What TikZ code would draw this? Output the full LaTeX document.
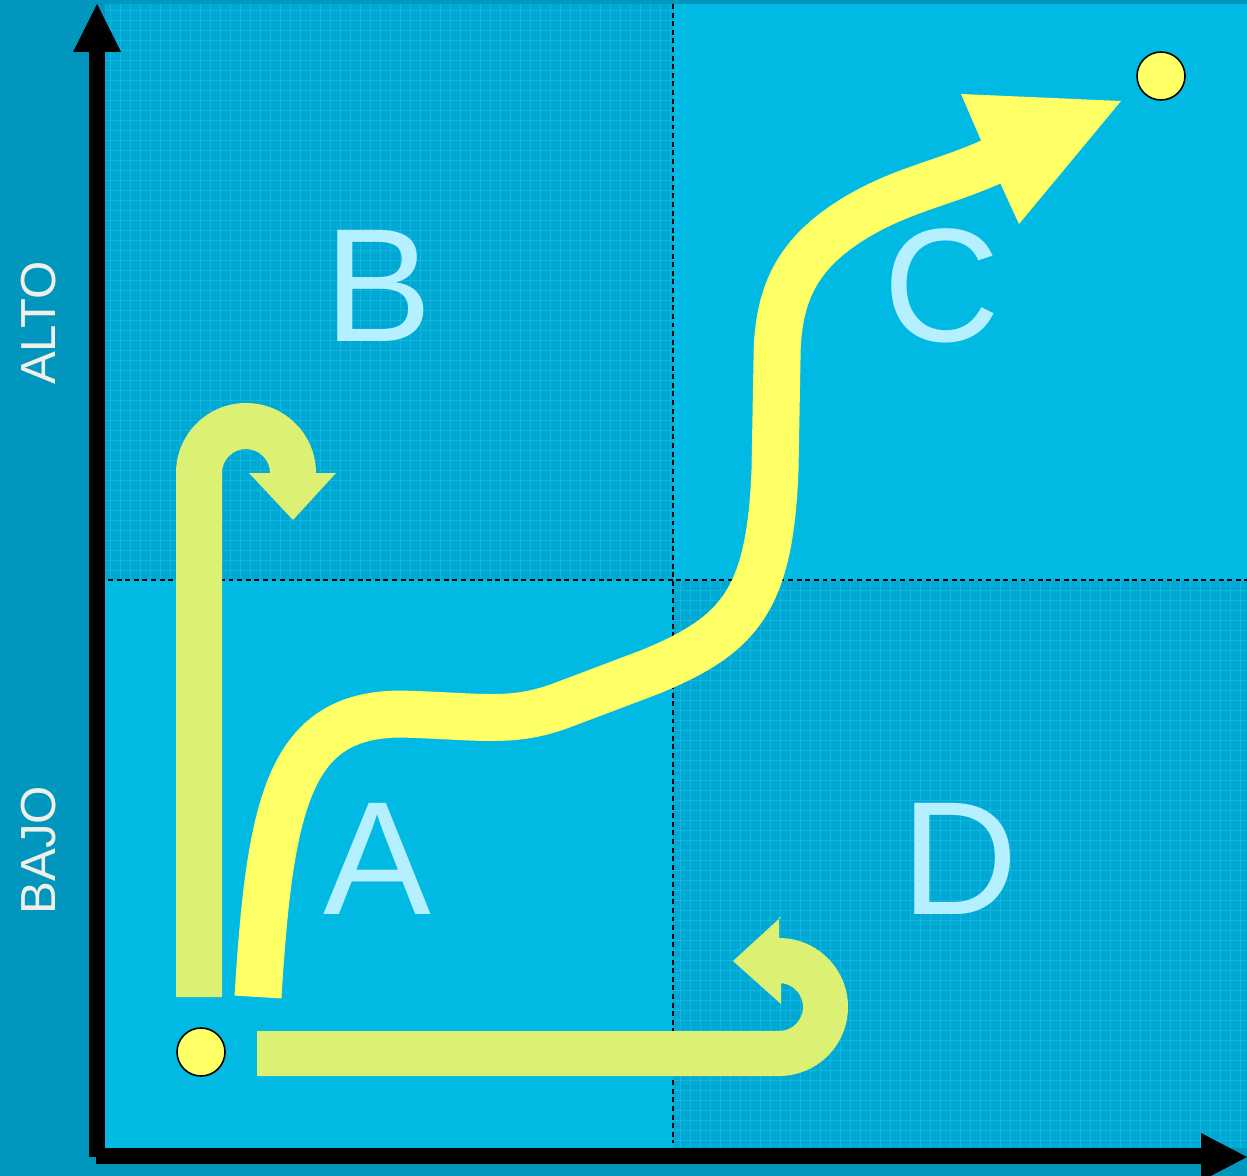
\documentclass[tikz,border=0pt]{standalone}
\usepackage{fontspec}
\setmainfont{Liberation Sans}
\definecolor{outerbg}{RGB}{0,150,190}
\definecolor{quaddark}{RGB}{0,168,212}
\definecolor{quadlight}{RGB}{0,186,228}
\definecolor{gridcol}{RGB}{20,182,224}
\definecolor{lettercol}{RGB}{180,240,255}
\definecolor{yel}{RGB}{255,255,102}
\definecolor{hookcol}{RGB}{220,240,115}
\definecolor{axislabelcol}{RGB}{240,240,232}
\begin{document}
\begin{tikzpicture}[x=0.02cm,y=0.02cm,yscale=-1,
  divider/.style={black,line width=0.9pt,dash pattern=on 2.8pt off 2.1pt},
  bigletter/.style={text=lettercol,font=\fontsize{92}{92}\selectfont,inner sep=0pt},
  axislabel/.style={text=axislabelcol,font=\fontsize{28}{28}\selectfont,inner sep=0pt,rotate=90},
  dot/.style={circle,fill=yel,draw=black,line width=0.9pt,minimum size=0.96cm,inner sep=0pt},
  bigpath/.style={yel,line width=0.94cm,line cap=butt,line join=round},
  hookfill/.style={fill=hookcol},
  gridlines/.style={gridcol,line width=0.3pt}]
\useasboundingbox (0,0) rectangle (1247,1176);
% backgrounds
\fill[outerbg] (0,0) rectangle (1247,1176);
\fill[quaddark] (105,4) rectangle (673,580);
\fill[quadlight] (673,4) rectangle (1247,580);
\fill[quadlight] (105,580) rectangle (673,1148);
\fill[quaddark] (673,580) rectangle (1247,1148);
\draw[gridlines] (105,4) grid[step=10] (673,580);
\draw[gridlines] (673,580) grid[step=10] (1247,1148);
% dividers
\draw[divider] (108,580) -- (1247,580);
\draw[divider] (673,4) -- (673,1143);
% quadrant letters
\node[bigletter] (B) at (378,286) {B};
\node[bigletter] (C) at (942,286) {C};
\node[bigletter] (A) at (377,859) {A};
\node[bigletter] (D) at (960,859) {D};
% axis labels
\node[axislabel] (alto) at (39,323) {ALTO};
\node[axislabel] (bajo) at (39,850) {BAJO};
% left hook arrow (up then down)
\fill[hookfill] (176,997) -- (176,473) arc[start angle=180,end angle=360,radius=70]
  -- (336,473) -- (293,520) -- (249,473) -- (270,473)
  arc[start angle=0,end angle=-180,radius=24] -- (222,997) -- cycle;
% bottom hook arrow (right then back)
\fill[hookfill] (257,1031) -- (779,1031) arc[start angle=90,end angle=-90,radius=24]
  -- (781,983) -- (781,1004) -- (733,961) -- (781,917) -- (779,917) -- (779,938)
  arc[start angle=-90,end angle=90,radius=69] -- (257,1076) -- cycle;
% main S-curve arrow
\draw[bigpath] (258,997) .. controls (270,800) and (290,715) .. (400,714)
  .. controls (480,716) and (510,724) .. (560,706) -- (650,672)
  .. controls (740,635) and (770,600) .. (775,470) -- (777,360)
  .. controls (777,290) and (800,250) .. (860,215)
  .. controls (905,189) and (947,182) .. (993,161);
\fill[yel] (980,138) -- (961,94) -- (1121,101) -- (1019,224) -- (1002,187) -- cycle;
% circles
\node[dot] (start) at (201,1052) {};
\node[dot] (goal) at (1161,76) {};
% axes
\fill[black] (89,52) rectangle (105,1157);
\fill[black] (73,52) -- (121,52) -- (97,4) -- cycle;
\fill[black] (96,1148) rectangle (1201,1164);
\fill[black] (1201,1133) -- (1201,1181) -- (1247,1157) -- cycle;
\end{tikzpicture}
\end{document}
